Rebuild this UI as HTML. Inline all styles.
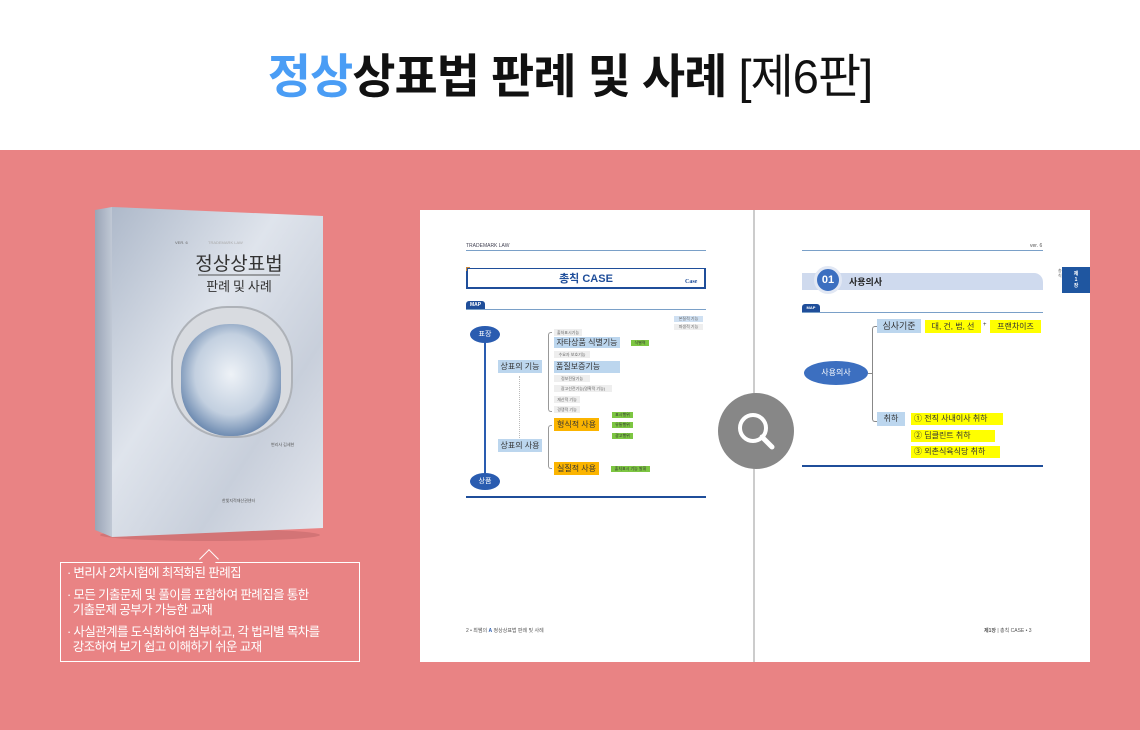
<!DOCTYPE html>
<html><head><meta charset="utf-8"><style>
*{margin:0;padding:0;box-sizing:border-box}
body{width:1140px;height:730px;overflow:hidden;background:#fff;font-family:"Liberation Sans","Noto Sans CJK KR",sans-serif;position:relative}
.a{position:absolute}
.t{white-space:nowrap}
.bx{position:absolute;font-size:8px;line-height:1;display:flex;align-items:center;justify-content:center;white-space:nowrap}
.s{background:#eee;color:#666;font-size:4px}
.lb{background:#bcd6ee;color:#333}
.yo{background:#fbb400;color:#333}
.gr{background:#7dc642;color:#333;font-size:4px}
.ye{background:#ffff00;color:#333;font-size:8px}
</style></head><body>
<div class="a t" style="left:0;top:45px;width:1140px;text-align:center;font-size:47px;font-weight:bold;letter-spacing:-1px;color:#111;line-height:64px"><span style="color:#4a9df5">정상</span>상표법 판례 및 사례 <span style="font-weight:normal">[제6판]</span></div>
<div class="a" style="left:0;top:150px;width:1140px;height:580px;background:#e98384"></div>

<!-- book -->
<svg class="a" style="left:80px;top:200px" width="260" height="345">
<defs>
<linearGradient id="cv" x1="0" y1="0" x2="1" y2="1"><stop offset="0" stop-color="#aeb9ca"/><stop offset=".4" stop-color="#dfe4ec"/><stop offset=".7" stop-color="#c8cfdb"/><stop offset="1" stop-color="#e4e7ee"/></linearGradient>
<linearGradient id="sp" x1="0" x2="1"><stop offset="0" stop-color="#9aa5b6"/><stop offset="1" stop-color="#c0c8d5"/></linearGradient>
<radialGradient id="win" cx=".5" cy=".45" r=".6"><stop offset="0" stop-color="#eef2f7"/><stop offset=".6" stop-color="#c3d0e0"/><stop offset="1" stop-color="#5a7ba6"/></radialGradient>
</defs>
<ellipse cx="130" cy="335" rx="110" ry="6" fill="#c56a6c" opacity=".6"/>
<polygon points="15,10 32,7 32,337 15,330" fill="url(#sp)"/>
<polygon points="32,7 243,16 243,328 32,337" fill="url(#cv)"/>
<rect x="92" y="107" width="120" height="130" rx="55" fill="#d8dbe0" stroke="#aeb2b8" stroke-width="2"/>
<rect x="101" y="124" width="100" height="112" rx="48" fill="url(#win)"/>
<text x="95" y="44" font-size="4" fill="#666">VER. 6</text>
<text x="128" y="44" font-size="4" fill="#aaa">TRADEMARK LAW</text>
<text x="159" y="70" font-size="19" text-anchor="middle" fill="#333" font-family="Noto Sans CJK KR,sans-serif">정상상표법</text>
<line x1="118" y1="75" x2="200" y2="75" stroke="#555" stroke-width="1"/>
<text x="159" y="91" font-size="13" text-anchor="middle" fill="#333" font-family="Noto Sans CJK KR,sans-serif">판례 및 사례</text>
<text x="191" y="246" font-size="4" fill="#555">변리사 김세현</text>
<text x="142" y="302" font-size="4" fill="#555">한빛지적재산권센터</text>
</svg>

<!-- callout -->
<div class="a" style="left:60px;top:562px;width:300px;height:100px;border:1px solid #fff"></div>
<div class="a" style="left:202px;top:552px;width:14px;height:14px;border-left:1px solid #fff;border-top:1px solid #fff;transform:rotate(45deg);background:#e98384"></div>
<div class="a" style="left:67px;top:566px;color:#fff;font-size:12.5px;line-height:15.5px;letter-spacing:-.6px">
<div>· 변리사 2차시험에 최적화된 판례집</div>
<div style="margin-top:6px">· 모든 기출문제 및 풀이를 포함하여 판례집을 통한<br>&nbsp;&nbsp;기출문제 공부가 가능한 교재</div>
<div style="margin-top:6px">· 사실관계를 도식화하여 첨부하고, 각 법리별 목차를<br>&nbsp;&nbsp;강조하여 보기 쉽고 이해하기 쉬운 교재</div>
</div>

<!-- pages -->
<div class="a" style="left:420px;top:210px;width:670px;height:452px;background:#fff"></div>
<div class="a" style="left:753px;top:210px;width:2px;height:452px;background:#ccc"></div>

<!-- left page -->
<div class="a t" style="left:466px;top:243px;font-size:5px;color:#445">TRADEMARK LAW</div>
<div class="a" style="left:466px;top:250px;width:240px;height:1px;background:#7aa0c8"></div>
<div class="a" style="left:466px;top:268px;width:240px;height:21px;border:2px solid #1f4e9a;border-top-width:1px"></div>
<div class="a" style="left:466px;top:267px;width:4px;height:4px;border-left:1px solid #c8873a;border-top:1px solid #c8873a"></div>
<div class="a t" style="left:466px;top:270px;width:240px;text-align:center;font-size:11px;font-weight:bold;color:#1f4e9a">총칙 CASE</div>
<div class="a t" style="left:685px;top:279px;font-size:6px;font-weight:bold;color:#1f4e9a;font-family:'Liberation Serif',serif">Case</div>
<div class="a" style="left:466px;top:301px;width:19px;height:9px;background:#1f4e9a;border-radius:3px 3px 0 0;color:#fff;font-size:5px;font-weight:bold;text-align:center;line-height:9px">MAP</div>
<div class="a" style="left:466px;top:309px;width:240px;height:1px;background:#7aa0c8"></div>
<div class="bx s" style="left:674px;top:316px;width:29px;height:6px;background:#cfe0f2">본질적 기능</div>
<div class="bx s" style="left:674px;top:324px;width:29px;height:6px">파생적 기능</div>
<div class="a" style="left:484px;top:340px;width:2px;height:138px;background:#2a5cb0"></div>
<div class="bx" style="left:470px;top:326px;width:30px;height:17px;border-radius:50%;background:#2a5cb0;color:#fff;font-size:7px">표장</div>
<div class="bx" style="left:470px;top:473px;width:30px;height:17px;border-radius:50%;background:#2a5cb0;color:#fff;font-size:7px">상품</div>
<div class="a" style="left:519px;top:376px;width:0;height:66px;border-left:1px dotted #bbb"></div>
<div class="bx lb" style="left:498px;top:360px;width:44px;height:13px">상표의 기능</div>
<div class="bx lb" style="left:498px;top:439px;width:44px;height:13px">상표의 사용</div>
<div class="a" style="left:548px;top:332px;width:4px;height:80px;border:1px solid #999;border-right:none;border-radius:3px 0 0 3px"></div>
<div class="a" style="left:548px;top:425px;width:4px;height:44px;border:1px solid #999;border-right:none;border-radius:3px 0 0 3px"></div>
<div class="bx s" style="left:554px;top:329px;width:28px;height:7px">출처표시기능</div>
<div class="bx lb" style="left:554px;top:337px;width:66px;height:11px;font-size:8px">자타상품 식별기능</div>
<div class="bx gr" style="left:631px;top:340px;width:18px;height:6px">식별력</div>
<div class="bx s" style="left:554px;top:351px;width:36px;height:7px">수요자 보호기능</div>
<div class="bx lb" style="left:554px;top:361px;width:66px;height:12px;font-size:8px;justify-content:flex-start;padding-left:2px">품질보증기능</div>
<div class="bx s" style="left:554px;top:375px;width:36px;height:7px">정보전달기능</div>
<div class="bx s" style="left:554px;top:385px;width:58px;height:7px">광고선전기능(명확적 기능)</div>
<div class="bx s" style="left:554px;top:396px;width:26px;height:7px">재산적 기능</div>
<div class="bx s" style="left:554px;top:406px;width:26px;height:7px">경쟁적 기능</div>
<div class="bx yo" style="left:554px;top:418px;width:45px;height:13px">형식적 사용</div>
<div class="bx gr" style="left:612px;top:412px;width:21px;height:6px">표시행위</div>
<div class="bx gr" style="left:612px;top:422px;width:21px;height:6px">유통행위</div>
<div class="bx gr" style="left:612px;top:433px;width:21px;height:6px">광고행위</div>
<div class="bx yo" style="left:554px;top:462px;width:45px;height:13px">실질적 사용</div>
<div class="bx gr" style="left:611px;top:466px;width:39px;height:6px">출처표시 기능 발휘</div>
<div class="a" style="left:466px;top:496px;width:240px;height:2px;background:#1f4e9a"></div>
<div class="a t" style="left:466px;top:627px;font-size:5px;color:#555">2 • 최쌤의 <b style="color:#2a5cb0">A</b> 정상상표법 판례 및 사례</div>

<!-- right page -->
<div class="a t" style="left:1030px;top:243px;font-size:5px;color:#555">ver. 6</div>
<div class="a" style="left:802px;top:250px;width:241px;height:1px;background:#7aa0c8"></div>
<div class="a" style="left:802px;top:273px;width:241px;height:17px;background:#cfdaee;border-radius:0 9px 0 0"></div>
<div class="bx" style="left:814px;top:266px;width:28px;height:28px;border-radius:50%;background:#3c6fc0;border:3px solid #e2e8f4;color:#fff;font-size:11px;font-weight:bold">01</div>
<div class="a t" style="left:849px;top:275px;font-size:9px;font-weight:bold;color:#222">사용의사</div>
<div class="a" style="left:1062px;top:267px;width:28px;height:26px;background:#1f56a0;color:#fff;font-size:5px;font-weight:bold;text-align:center;padding-top:4px;line-height:6px">제<br>1<br>장</div>
<div class="a" style="left:1058px;top:268px;font-size:4px;color:#666;line-height:5px">총<br>칙</div>
<div class="a" style="left:802px;top:304px;width:18px;height:8px;background:#1f4e9a;border-radius:3px 3px 0 0;color:#fff;font-size:4px;font-weight:bold;text-align:center;line-height:8px">MAP</div>
<div class="a" style="left:802px;top:312px;width:241px;height:1px;background:#7aa0c8"></div>
<div class="bx" style="left:804px;top:361px;width:64px;height:24px;border-radius:50%;background:#3c6fc0;color:#fff;font-size:8px">사용의사</div>
<div class="a" style="left:872px;top:326px;width:6px;height:96px;border:1px solid #888;border-right:none;border-radius:3px 0 0 3px"></div>
<div class="a" style="left:868px;top:373px;width:5px;height:1px;background:#888"></div>
<div class="bx lb" style="left:877px;top:319px;width:44px;height:14px;font-size:9px">심사기준</div>
<div class="bx ye" style="left:925px;top:320px;width:56px;height:13px">대, 건, 법, 선</div>
<div class="a t" style="left:983px;top:322px;font-size:6px;color:#333">+</div>
<div class="bx ye" style="left:990px;top:320px;width:51px;height:13px">프랜차이즈</div>
<div class="bx lb" style="left:877px;top:412px;width:28px;height:14px;font-size:8px">취하</div>
<div class="bx ye" style="left:911px;top:413px;width:92px;height:12px;justify-content:flex-start;padding-left:3px">① 전직 사내이사 취하</div>
<div class="bx ye" style="left:911px;top:430px;width:84px;height:12px;justify-content:flex-start;padding-left:3px">② 딥클린트 취하</div>
<div class="bx ye" style="left:911px;top:446px;width:89px;height:12px;justify-content:flex-start;padding-left:3px">③ 외촌식육식당 취하</div>
<div class="a" style="left:802px;top:465px;width:241px;height:2px;background:#1f4e9a"></div>
<div class="a t" style="left:984px;top:627px;font-size:5px;color:#555"><b>제1장</b> | 총칙 CASE • 3</div>

<!-- magnifier -->
<div class="a" style="left:718px;top:393px;width:76px;height:76px;border-radius:50%;background:#878787"></div>
<svg class="a" style="left:718px;top:393px" width="76" height="76"><circle cx="35" cy="35" r="13" fill="none" stroke="#fff" stroke-width="4"/><line x1="44" y1="44" x2="54" y2="54" stroke="#fff" stroke-width="5" stroke-linecap="round"/></svg>
</body></html>
